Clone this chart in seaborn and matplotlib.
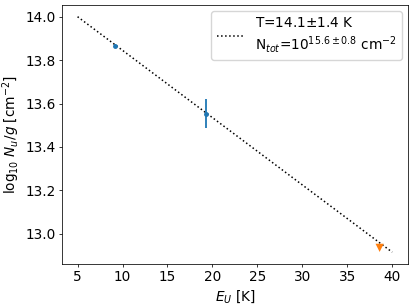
import numpy as np
import pandas as pd
import matplotlib
matplotlib.use('Agg')
import matplotlib.pyplot as plt
import seaborn as sns

# detections
E_det = [9.15, 19.25]
logN_det = [13.865, 13.553]
err_det = [0.008, 0.068]

# upper limit
E_lim = [38.6]
logN_lim = [12.935]

# rotational diagram fit
E_fit = [5.0, 40.0]
logN_fit = [14.0, 12.915]

fit_label = 'T=14.1$\\pm$1.4 K\nN$_{tot}$=10$^{15.6\\pm0.8}$ cm$^{-2}$'

plt.rcParams.update({
    'font.size': 9.8,
    'xtick.major.size': 2.3, 'ytick.major.size': 2.3,
    'xtick.major.pad': 2.3, 'ytick.major.pad': 2.3,
    'xtick.major.width': 0.55, 'ytick.major.width': 0.55,
    'axes.linewidth': 0.55, 'axes.labelpad': 2.6,
})
fig, ax = plt.subplots(figsize=(4.15, 3.08), dpi=100)

df_fit = pd.DataFrame({'E': E_fit, 'logN': logN_fit})
sns.lineplot(data=df_fit, x='E', y='logN', ax=ax, color='black', linestyle=':',
             linewidth=1.1, label=fit_label)

ax.errorbar(E_det, logN_det, yerr=err_det, fmt='o', ms=2.5, color='tab:blue',
            elinewidth=1.3, capsize=0, zorder=3)
sns.scatterplot(x=E_lim, y=logN_lim, ax=ax, marker='v', color='tab:orange',
                s=35, edgecolor='none', zorder=4)

ax.set_xlabel('$E_U$ [K]')
ax.set_ylabel('log$_{10}$ $N_u/g$ [cm$^{-2}$]')
ax.set_xticks([5, 10, 15, 20, 25, 30, 35, 40])
ax.set_yticks([13.0, 13.2, 13.4, 13.6, 13.8, 14.0])
ax.legend(loc='upper right', borderaxespad=0.45)

fig.subplots_adjust(left=0.149, right=0.983, top=0.984, bottom=0.143)
fig.savefig('out.png', dpi=100)
